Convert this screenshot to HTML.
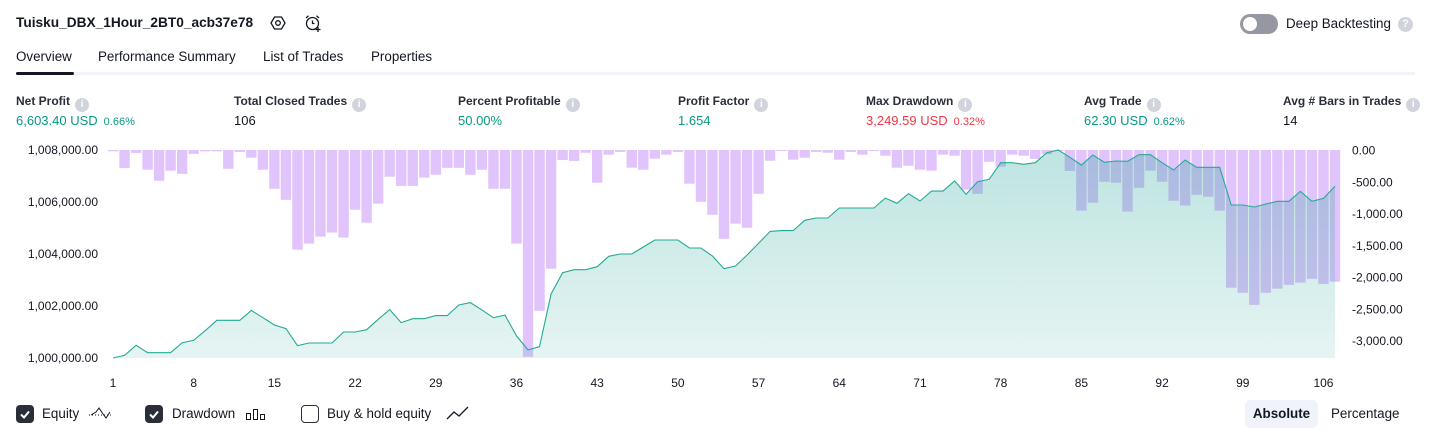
<!DOCTYPE html>
<html><head><meta charset="utf-8"><style>
*{box-sizing:border-box}
body{margin:0;width:1431px;height:438px;background:#fff;font-family:"Liberation Sans",sans-serif;color:#131722;position:relative;overflow:hidden}
.a{position:absolute;white-space:nowrap}
.title{left:16px;top:15px;font-size:13.7px;font-weight:bold}
.tab{top:49px;font-size:13.4px}
.lbl{top:94px;font-size:12px;font-weight:bold;color:#2a2e39}
.val{top:113px;font-size:13px}
.val small{font-size:11px;margin-left:6px}
.g{color:#089981}.r{color:#f23645}
.info{display:inline-block;width:14px;height:14px;border-radius:50%;background:#d1d4dc;color:#fff;font-size:10px;text-align:center;line-height:14px;font-weight:bold;vertical-align:-2px;margin-left:5px}
.cb{width:18px;height:18px;border-radius:4px;top:405px}
.cb.on{background:#2a2e39}
.cb.off{border:1.5px solid #2a2e39;background:#fff}
.leg{top:406px;font-size:13.4px}
</style></head><body>
<div class="a title">Tuisku_DBX_1Hour_2BT0_acb37e78</div>
<svg class="a" style="left:270px;top:15px" width="16" height="16"><polygon points="4.5,2 11.5,2 15,8 11.5,14 4.5,14 1,8" fill="none" stroke="#131722" stroke-width="1.3"/><circle cx="8" cy="8" r="2.3" fill="none" stroke="#131722" stroke-width="1.3"/></svg>
<svg class="a" style="left:304px;top:14px" width="18" height="18"><circle cx="8.5" cy="9.5" r="6" fill="none" stroke="#131722" stroke-width="1.3"/><path d="M8.5 6.5V9.5H10.5M2 4L4.5 1.8M15 4L12.5 1.8M14 13v5M11.5 15.5h5" fill="none" stroke="#131722" stroke-width="1.3"/></svg>
<div class="a" style="left:1240px;top:14px;width:38px;height:20px;border-radius:10px;background:#9598a1"><div style="position:absolute;left:3px;top:3px;width:14px;height:14px;border-radius:50%;background:#fff"></div></div>
<div class="a" style="left:1286px;top:16px;font-size:13.4px">Deep Backtesting</div>
<div class="a" style="left:1398px;top:17px;width:15px;height:15px;border-radius:50%;background:#d1d4dc;color:#fff;font-size:11px;font-weight:bold;text-align:center;line-height:15px">?</div>
<div class="a tab" style="left:16px">Overview</div>
<div class="a tab" style="left:98px">Performance Summary</div>
<div class="a tab" style="left:263px">List of Trades</div>
<div class="a tab" style="left:371px">Properties</div>
<div class="a" style="left:16px;top:72px;width:1399px;height:3px;background:#f0f3fa;border-radius:2px"></div>
<div class="a" style="left:16px;top:72px;width:58px;height:3px;background:#131722;border-radius:2px"></div>

<div class="a lbl" style="left:16px">Net Profit<span class="info">i</span></div>
<div class="a val g" style="left:16px">6,603.40 USD<small>0.66%</small></div>
<div class="a lbl" style="left:234px">Total Closed Trades<span class="info">i</span></div>
<div class="a val" style="left:234px">106</div>
<div class="a lbl" style="left:458px">Percent Profitable<span class="info">i</span></div>
<div class="a val g" style="left:458px">50.00%</div>
<div class="a lbl" style="left:678px">Profit Factor<span class="info">i</span></div>
<div class="a val g" style="left:678px">1.654</div>
<div class="a lbl" style="left:866px">Max Drawdown<span class="info">i</span></div>
<div class="a val r" style="left:866px">3,249.59 USD<small>0.32%</small></div>
<div class="a lbl" style="left:1084px">Avg Trade<span class="info">i</span></div>
<div class="a val g" style="left:1084px">62.30 USD<small>0.62%</small></div>
<div class="a lbl" style="left:1283px">Avg # Bars in Trades<span class="info">i</span></div>
<div class="a val" style="left:1283px">14</div>

<svg id="chart" class="a" style="left:0;top:0" width="1431" height="438">
<defs><linearGradient id="ag" x1="0" y1="0" x2="0" y2="1"><stop offset="0" stop-color="#26a69a" stop-opacity="0.3"/><stop offset="1" stop-color="#26a69a" stop-opacity="0.12"/></linearGradient></defs>
</svg>

<div class="a cb on" style="left:16px"><svg width="18" height="18"><path d="M5 9.5l3 3 5-6" fill="none" stroke="#fff" stroke-width="2"/></svg></div>
<div class="a leg" style="left:42px">Equity</div>
<svg class="a" style="left:88px;top:405px" width="26" height="18"><path d="M1 10h24" stroke="#131722" stroke-dasharray="1 2"/><path d="M3 10l5-3 3-4 4 6 3 4 4-6" fill="none" stroke="#131722"/></svg>
<div class="a cb on" style="left:145px"><svg width="18" height="18"><path d="M5 9.5l3 3 5-6" fill="none" stroke="#fff" stroke-width="2"/></svg></div>
<div class="a leg" style="left:172px">Drawdown</div>
<svg class="a" style="left:245px;top:405px" width="22" height="18"><rect x="1.5" y="8.5" width="4" height="6" fill="none" stroke="#131722"/><rect x="8.5" y="4.5" width="4" height="10" fill="none" stroke="#131722"/><rect x="15.5" y="9.5" width="4" height="5" fill="none" stroke="#131722"/></svg>
<div class="a cb off" style="left:301px"></div>
<div class="a leg" style="left:327px">Buy &amp; hold equity</div>
<svg class="a" style="left:446px;top:405px" width="24" height="16"><path d="M1 14l7-7 5 4 9-9" fill="none" stroke="#131722" stroke-width="1.3"/></svg>
<div class="a" style="left:1245px;top:400px;width:73px;height:28px;border-radius:6px;background:#f0f3fa;font-size:13.4px;font-weight:bold;text-align:center;line-height:28px">Absolute</div>
<div class="a" style="left:1331px;top:406px;font-size:13.4px">Percentage</div>

<script>
const equityValues=[0,100,490,205,205,205,590,680,1050,1450,1450,1450,1830,1550,1270,1130,475,577,577,577,1000,1000,1090,1490,1860,1360,1510,1510,1630,1630,2040,2130,1850,1550,1650,850,310,436,2460,3280,3397,3397,3513,3910,4000,4000,4270,4540,4540,4540,4230,4230,3920,3436,3540,3960,4410,4870,4900,4900,5295,5385,5385,5770,5770,5770,5770,6150,5950,6320,6040,6420,6420,6810,6295,6780,6872,7512,7512,7450,7512,7898,8000,7718,7423,7808,7525,7577,7564,7820,7820,7512,7230,7615,7333,7333,7333,5885,5885,5808,5923,6025,6025,6410,6025,6140,6603];
const drawdownValues=[10,275,35,300,475,315,365,50,10,10,285,20,110,300,600,775,1560,1465,1355,1290,1370,930,1135,835,410,555,555,425,380,270,270,380,300,600,600,1465,3250,2525,1860,147,163,32,505,63,20,268,300,126,63,20,520,805,1010,1390,1150,1215,680,158,5,142,110,20,32,142,20,63,5,79,268,237,300,315,63,79,615,680,175,252,63,79,130,55,5,320,945,820,490,505,960,585,315,490,790,865,695,725,945,2160,2240,2430,2240,2175,2115,2080,2020,2100,2065];
const xTicks=[1,8,15,22,29,36,43,50,57,64,71,78,85,92,99,106];
const leftTicks=[1000000,1002000,1004000,1006000,1008000];
const rightTicks=[0,-500,-1000,-1500,-2000,-2500,-3000];
const BASE=1000000;
const svg=document.getElementById('chart');const NS='http://www.w3.org/2000/svg';
const step=(1335-113)/106;
const xi=i=>113+i*step;
const yL=v=>358-(v-1000000)*208/8000;
const yR=d=>150.7+d*190.3/3000;
function mk(t,a){const e=document.createElementNS(NS,t);for(const k in a)e.setAttribute(k,a[k]);svg.appendChild(e);return e;}
drawdownValues.forEach((d,i)=>{const r=mk('rect',{x:xi(i)-5.2,y:150,width:10.4,height:Math.max(1,yR(d)-150),fill:'#e1c4fc'});

});
let pts=equityValues.map((v,i)=>xi(i).toFixed(1)+','+yL(BASE+v).toFixed(1));
const area=mk('path',{d:'M'+xi(0)+',358L'+pts.join('L')+'L'+xi(equityValues.length-1)+',358Z',fill:'url(#ag)'});


const line=mk('polyline',{points:pts.join(' '),fill:'none',stroke:'#22ab94','stroke-width':1.1});


leftTicks.forEach(v=>{const t=mk('text',{x:98,y:yL(v)+4,'text-anchor':'end','font-size':12,fill:'#131722','font-family':'Liberation Sans, sans-serif'});t.textContent=v.toLocaleString('en-US',{minimumFractionDigits:2});

});
rightTicks.forEach(v=>{const t=mk('text',{x:1352,y:yR(-v)+4,'font-size':12,fill:'#131722','font-family':'Liberation Sans, sans-serif'});t.textContent=v.toLocaleString('en-US',{minimumFractionDigits:2});

});
xTicks.forEach(k=>{const t=mk('text',{x:xi(k-1),y:387,'text-anchor':'middle','font-size':12,fill:'#131722','font-family':'Liberation Sans, sans-serif'});t.textContent=k;

});
</script>
</body></html>
